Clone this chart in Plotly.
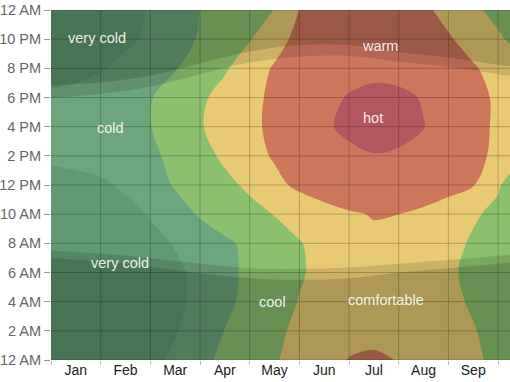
import plotly.graph_objects as go

# ---------------- data ----------------
MONTH_LABELS = ["Jan", "Feb", "Mar", "Apr", "May", "Jun", "Jul", "Aug", "Sep"]
MONTH_CENTERS = [0.5, 1.5, 2.5, 3.5, 4.5, 5.5, 6.5, 7.5, 8.5]
MONTH_EDGES = [0, 1, 2, 3, 4, 5, 6, 7, 8, 9, 10]

HOUR_TICKS = [0, 2, 4, 6, 8, 10, 12, 14, 16, 18, 20, 22, 24]
HOUR_LABELS = ["12 AM", "2 AM", "4 AM", "6 AM", "8 AM", "10 AM", "12 PM",
               "2 PM", "4 PM", "6 PM", "8 PM", "10 PM", "12 AM"]

# temperature grid (°F): columns = month position, rows = hour of day
GRID_MONTHS = [0, 0.5, 1, 1.5, 2, 2.5, 3, 3.5, 4, 4.5, 5, 5.5, 6, 6.5, 7, 7.5, 8, 8.5, 9, 9.5]
GRID_HOURS = [0, 2, 4, 6, 8, 10, 12, 14, 16, 18, 20, 22, 24]
T_00 = [40, 40, 41, 42, 43, 46.5, 52, 57.5, 61, 64.5, 67, 72, 75.3, 75.8, 74.8, 72.5, 70, 66.5, 63, 60]
T_02 = [38.5, 38.5, 39.5, 40.5, 42, 44.5, 49, 55.2, 59.5, 63.5, 66.5, 70, 72.5, 73.5, 72.5, 70.5, 68, 65.5, 62, 59]
T_04 = [37.5, 37.5, 38.5, 39.5, 41, 43.5, 47, 53, 57.5, 62, 65.3, 68.5, 71, 72, 71.5, 69.5, 67, 64, 60.5, 57.5]
T_06 = [37, 37, 38, 39, 41, 43.5, 47, 52.5, 57, 61, 64.3, 67, 70, 71, 70.5, 68.5, 66.3, 63, 59.5, 56.5]
T_08 = [38, 38.5, 39.5, 41, 43, 45.5, 49.5, 53.5, 57, 61, 64.5, 68, 71.5, 73, 72.5, 70.5, 67.5, 64, 61, 58]
T_10 = [40, 40.5, 41.5, 43, 45.5, 50.5, 56, 59.5, 62.5, 65.3, 68.5, 71.5, 74, 75.5, 75, 73, 70, 66, 63, 60]
T_12 = [43, 43.5, 44, 46, 50, 56, 59.5, 63, 66.5, 72.5, 77, 80, 82, 83, 82.5, 81, 78.5, 75.5, 66, 58]
T_14 = [46, 46.5, 47.5, 49.5, 53, 57.5, 62, 66.5, 71.5, 76, 79.5, 82, 83.5, 84.7, 84, 82.5, 80, 77.5, 73, 66]
T_16 = [49, 49.5, 50.5, 52.5, 54.8, 59, 64.3, 69, 73, 77, 81, 84, 86.5, 88, 87.5, 85.2, 82, 78, 73.5, 67.5]
T_18 = [46, 46.5, 48, 50.5, 54.5, 59, 63.5, 68, 73, 76.5, 80, 83, 85.5, 87, 86.5, 84.5, 81.5, 78, 73.5, 68]
T_20 = [42.5, 43.5, 44.5, 46.5, 50, 54.5, 59, 64, 70, 76, 79, 81, 82.5, 83, 82.5, 81, 78.5, 75.8, 72, 68]
T_22 = [41, 41.5, 42.5, 44, 46, 50.5, 56, 60, 64.5, 71, 78, 80, 81, 81.5, 80.5, 78.5, 75.8, 72, 66.5, 61]
T_24 = [40.5, 41, 42, 43.5, 45.3, 50, 55.2, 58.5, 61.5, 65.2, 75.2, 78, 79.5, 80, 79, 76.5, 72.5, 67, 62, 58]

BAND_NAMES = ["very cold", "cold", "cool", "comfortable", "warm", "hot"]
BAND_COLORS = ["#5f9a72", "#6ca67c", "#8ac06e", "#e8ca75", "#cd775d", "#b3575e"]

# daylight / twilight (hour of day at each month edge)
SUNRISE = [7.5, 7.3, 7.0, 6.6, 6.3, 6.25, 6.35, 6.6, 6.85, 7.15, 7.4]
DAWN = [7.0, 6.75, 6.4, 5.95, 5.6, 5.5, 5.6, 6.0, 6.3, 6.6, 6.85]
SUNSET = [17.95, 18.25, 18.75, 19.6, 20.4, 20.8, 20.85, 20.45, 20.1, 19.6, 19.2]
DUSK = [18.85, 19.05, 19.5, 20.35, 21.15, 21.6, 21.6, 21.1, 20.75, 20.25, 19.85]
DAY_END = [24] * len(MONTH_EDGES)

# band labels: (text, month position, hour)
LABEL_TEXT = ["very cold", "cold", "warm", "hot", "very cold", "cool", "comfortable"]
LABEL_X = [0.93, 1.19, 6.62, 6.48, 1.39, 4.45, 6.74]
LABEL_Y = [22.1, 15.9, 21.5, 16.6, 6.65, 3.98, 4.1]

# ---------------- figure ----------------
Z = [T_00, T_02, T_04, T_06, T_08, T_10, T_12, T_14, T_16, T_18, T_20, T_22, T_24]

cs = []
n = len(BAND_COLORS)
for i, c in enumerate(BAND_COLORS):
    lo = max(0.0, (i - 0.5) / (n - 1))
    hi = min(1.0, (i + 0.5) / (n - 1))
    cs.append([lo, c])
    cs.append([hi, c])

fig = go.Figure()
fig.add_trace(go.Contour(
    x=GRID_MONTHS, y=GRID_HOURS, z=Z,
    autocontour=False,
    contours=dict(start=45, end=85, size=10, coloring="fill", showlines=False),
    colorscale=cs, showscale=False, line=dict(width=0, smoothing=1.0),
    hoverinfo="skip",
))

TWI = "rgba(0,0,0,0.12)"
NIGHT = "rgba(0,0,0,0.14)"
common = dict(mode="lines", hoverinfo="skip", showlegend=False)
fig.add_trace(go.Scatter(x=MONTH_EDGES, y=SUNRISE, fill="tozeroy", fillcolor=TWI,
                         line=dict(width=0, shape="spline"), **common))
fig.add_trace(go.Scatter(x=MONTH_EDGES, y=DAWN, fill="tozeroy", fillcolor=NIGHT,
                         line=dict(width=0, shape="spline"), **common))
fig.add_trace(go.Scatter(x=MONTH_EDGES, y=DAY_END, line=dict(width=0), **common))
fig.add_trace(go.Scatter(x=MONTH_EDGES, y=SUNSET, fill="tonexty", fillcolor=TWI,
                         line=dict(width=0, shape="spline"), **common))
fig.add_trace(go.Scatter(x=MONTH_EDGES, y=DAY_END, line=dict(width=0), **common))
fig.add_trace(go.Scatter(x=MONTH_EDGES, y=DUSK, fill="tonexty", fillcolor=NIGHT,
                         line=dict(width=0, shape="spline"), **common))

GRID_COLOR = "rgba(0,0,0,0.22)"
shapes = []
for m in MONTH_EDGES[1:]:
    shapes.append(dict(type="line", xref="x", yref="paper", x0=m, x1=m, y0=0, y1=1,
                       line=dict(color=GRID_COLOR, width=1), layer="above"))
for h in HOUR_TICKS:
    shapes.append(dict(type="line", xref="paper", yref="y", x0=0, x1=1, y0=h, y1=h,
                       line=dict(color=GRID_COLOR, width=1), layer="above"))

FONT = "Liberation Sans, Arial, Helvetica, sans-serif"
annotations = []
for t, x, y in zip(LABEL_TEXT, LABEL_X, LABEL_Y):
    annotations.append(dict(x=x, y=y, xref="x", yref="y", text=t, showarrow=False,
                            font=dict(family=FONT, size=14.5, color="rgba(255,255,255,0.9)")))

fig.update_layout(
    width=510, height=382,
    margin=dict(l=51, r=0, t=10, b=22, autoexpand=False),
    paper_bgcolor="white", plot_bgcolor="white",
    shapes=shapes, annotations=annotations,
    showlegend=False,
    xaxis=dict(range=[0, 9.24], tickmode="array", tickvals=MONTH_CENTERS, ticktext=MONTH_LABELS,
               ticks="", showgrid=False, zeroline=False, showline=False, automargin=False,
               tickfont=dict(family=FONT, size=14, color="#222"),
               minor=dict(tickmode="array", tickvals=MONTH_EDGES, ticks="outside", ticklen=4,
                          tickcolor="#bbb", showgrid=False),
               fixedrange=True),
    yaxis=dict(range=[0, 24], tickmode="array", tickvals=HOUR_TICKS, ticktext=HOUR_LABELS,
               ticks="outside", ticklen=6, tickcolor="#999", showgrid=False, zeroline=False,
               showline=False, automargin=False,
               tickfont=dict(family=FONT, size=14.5, color="#666"),
               fixedrange=True),
)

fig.write_html("out.html", config={"displayModeBar": False},
               post_script="document.body.style.margin='0px';document.body.style.padding='0px';")
